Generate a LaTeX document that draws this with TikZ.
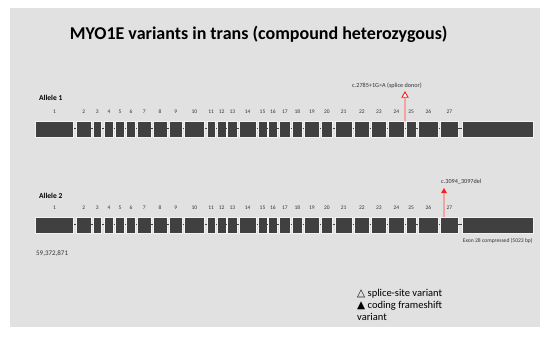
\documentclass[tikz,border=0pt]{standalone}
\usepackage{fontspec}
\setmainfont{Carlito}
\newfontfamily\symfont{DejaVu Sans}
\usetikzlibrary{
  positioning,
  shapes.geometric
}
\definecolor{panel}{HTML}{E1E1E1}
\definecolor{exonfill}{HTML}{404040}
\definecolor{exonedge}{HTML}{F2F2F2}
\definecolor{mutred}{HTML}{FF1A1A}
\definecolor{mutline}{HTML}{F4A3A3}
\definecolor{ink}{HTML}{333333}

\begin{document}
\begin{tikzpicture}[
  x=1pt, y=-1pt,
  exon/.style={draw=exonedge, line width=0.6pt, fill=exonfill, minimum height=16pt,
               inner sep=0pt, anchor=west},
  intron/.style={exonfill, line width=1pt},
  exnum/.style={font=\fontsize{5.5}{6}\selectfont, text=ink, inner sep=0pt},
  allele/.style={font=\fontsize{7.5}{9}\selectfont\bfseries, anchor=west, inner sep=0pt},
  note/.style={font=\fontsize{6.2}{7}\selectfont, text=ink, inner sep=0pt},
  splicetri/.style={regular polygon, regular polygon sides=3, draw=mutred, line width=0.9pt,
                    fill=white, inner sep=0pt, minimum size=7pt},
  shifttri/.style={regular polygon, regular polygon sides=3, fill=mutred,
                   inner sep=0pt, minimum size=7pt},
  varline/.style={mutline, line width=1.3pt}
]
  \useasboundingbox (0,0) rectangle (550,337);
  \fill[panel] (10,8) rectangle (540,327);

  % Title
  \node[font=\fontsize{18}{20}\selectfont\bfseries, anchor=base, inner sep=0pt] (title)
    at (258.7,39.6) {MYO1E variants in trans (compound heterozygous)};

  % Exons, introns and exon numbers for both alleles
  \foreach \a/\y in {1/129, 2/225} {
    \foreach \i/\l/\r in {1/35/73.3, 2/76/90.7, 3/92.7/101.3, 4/104/113.3, 5/115.3/124.3,
                          6/126/135.3, 7/137.3/150.7, 8/152.7/166.7, 9/168.7/182.3,
                          10/184/204.3, 11/206.7/215, 12/217/225.7, 13/227.3/236.7,
                          14/238.7/256, 15/257.7/266.7, 16/268.3/276.7, 17/279/290,
                          18/292/302, 19/304/319, 20/321/332.3, 21/334.7/352,
                          22/354/369, 23/371/386, 24/388/404.3, 25/406/415.7,
                          26/417.7/438.3, 27/440.3/457.7, 28/461.7/533.3}
      \node[exon, minimum width={(\r-\l)*1pt}] (a\a-\i) at (\l,\y) {};
    \foreach \i [evaluate=\i as \j using int(\i+1)] in {1,...,27}
      \draw[intron] (a\a-\i.east) -- (a\a-\j.west);
    \foreach \i in {1,...,27}
      \node[exnum, above=7pt of a\a-\i] (n\a-\i) {\i};
  }

  % Allele labels
  \node[allele] (al1) at (39,98) {Allele 1};
  \node[allele] (al2) at (39,196) {Allele 2};

  % Variant on allele 1
  \node[splicetri] (v1) at (405,95.5) {};
  \node[note] (v1txt) at (387,86) {c.2785+1G>A (splice donor)};
  \coordinate (v1end) at (405,121);
  \draw[varline] (v1.south) -- (v1end);

  % Variant on allele 2
  \node[shifttri] (v2) at (444,191.5) {};
  \node[note, anchor=west] (v2txt) at (441,182) {c.3094\_3097del};
  \coordinate (v2end) at (444,217);
  \draw[varline] (v2.south) -- (v2end);

  % Notes
  \node[note, font=\fontsize{5.6}{7}\selectfont, anchor=west] (ex28) at (462.7,240.7)
    {Exon 28 compressed (5023 bp)};
  \node[font=\fontsize{7}{8}\selectfont, text=ink, anchor=west, inner sep=0pt] (pos)
    at (36,254) {59,372,871};

  % Legend
  \node[font=\fontsize{10.5}{12}\selectfont, align=left, anchor=west, inner sep=0pt] (legend)
    at (357,305) {{\symfont △} splice-site variant\\{\symfont ▲} coding frameshift\\variant};
\end{tikzpicture}
\end{document}
